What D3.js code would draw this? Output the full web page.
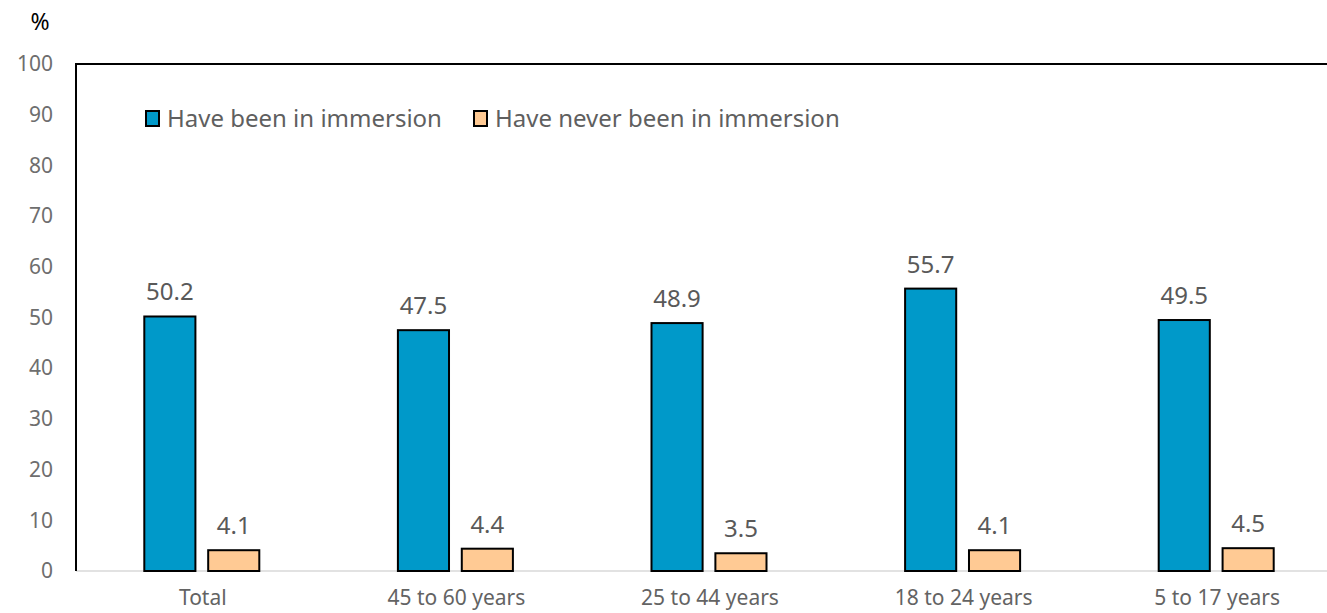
<!DOCTYPE html>
<html><head><meta charset="utf-8">
<script src="https://cdn.jsdelivr.net/npm/d3@7"></script>
<style>
body{margin:0;background:#fff;overflow:hidden}
text{font-family:"Noto Sans",sans-serif}
</style></head><body>
<svg id="c" width="1327" height="613"></svg>
<script>
const categories = ["Total","45 to 60 years","25 to 44 years","18 to 24 years","5 to 17 years"];
const seriesNames = ["Have been in immersion","Have never been in immersion"];
const beenValues = [50.2,47.5,48.9,55.7,49.5];
const neverValues = [4.1,4.4,3.5,4.1,4.5];
const yTicks = [0,10,20,30,40,50,60,70,80,90,100];
const colors = ["#0099C9","#FFCA94"];

(function(){
const svg = d3.select("#c");
const pLeft = 76, pTop = 64, pBottom = 571, pRight = 1344;
const x = d3.scaleBand().domain(categories).range([pLeft, pRight]);
const y = d3.scaleLinear().domain([0,100]).range([pBottom, pTop]);
const inner = d3.scaleBand().domain([0,1]).range([-33-25.5, 31+25.5]).paddingInner(0.2);

svg.append("line").attr("x1",pLeft).attr("x2",pRight).attr("y1",pBottom).attr("y2",pBottom)
  .attr("stroke","#d9d9d9").attr("stroke-width",1.5);

const ya = svg.append("g").attr("transform",`translate(${pLeft},0)`)
  .call(d3.axisLeft(y).tickValues(yTicks).tickSize(0).tickPadding(23));
ya.select(".domain").remove();
ya.selectAll("text").attr("fill","#6e6e6e").style("font-size","21px").style("font-family","Noto Sans");

const xa = svg.append("g").attr("transform",`translate(0,${pBottom})`)
  .call(d3.axisBottom(x).tickSize(0).tickPadding(19));
xa.select(".domain").remove();
xa.selectAll("text").attr("fill","#636363").style("font-size","21px").style("font-family","Noto Sans");

svg.append("path").attr("d",`M${pLeft},${pBottom}V${pTop}H${pRight}`).attr("fill","none")
  .attr("stroke","#000").attr("stroke-width",2);

const data = [beenValues, neverValues];
data.forEach((vals,si)=>{
  const g = svg.append("g");
  g.selectAll("rect").data(vals).join("rect")
    .attr("x",(d,i)=>x(categories[i])+x.bandwidth()/2+inner(si))
    .attr("width",inner.bandwidth())
    .attr("y",d=>y(d)).attr("height",d=>pBottom-y(d))
    .attr("fill",colors[si]).attr("stroke","#000").attr("stroke-width",2);
  g.selectAll("text").data(vals).join("text")
    .attr("x",(d,i)=>x(categories[i])+x.bandwidth()/2+inner(si)+inner.bandwidth()/2)
    .attr("y",d=>y(d)-16)
    .attr("text-anchor","middle").attr("fill","#595959").style("font-size","24px")
    .text(d=>d.toFixed(1));
});

const legX = [146, 474];
seriesNames.forEach((n,i)=>{
  svg.append("rect").attr("x",legX[i]).attr("y",111).attr("width",13).attr("height",15)
    .attr("fill",colors[i]).attr("stroke","#000").attr("stroke-width",2);
  svg.append("text").attr("x",legX[i]+21).attr("y",127).attr("fill","#5f5f5f")
    .style("font-size","24px").text(n);
});

svg.append("text").attr("x",40).attr("y",30).attr("text-anchor","middle")
  .attr("fill","#000").style("font-size","23px").text("%");
})();
</script></body></html>
